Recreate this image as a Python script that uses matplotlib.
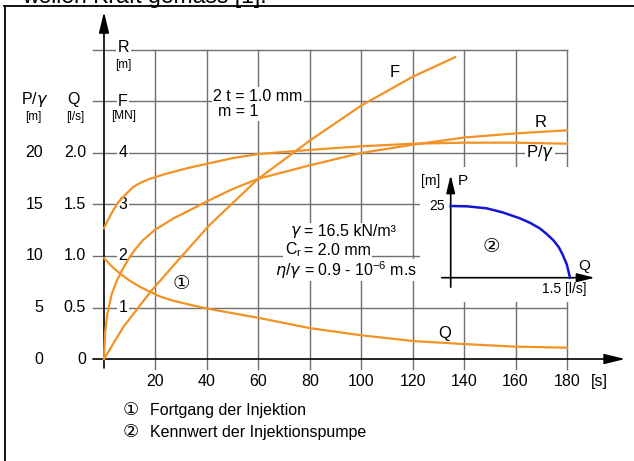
import matplotlib
matplotlib.use("Agg")
import matplotlib.pyplot as plt
from matplotlib.lines import Line2D

plt.rcParams['font.family'] = ['Liberation Sans', 'DejaVu Sans']
plt.rcParams['mathtext.fontset'] = 'custom'
plt.rcParams['mathtext.rm'] = 'Liberation Sans'
plt.rcParams['mathtext.it'] = 'DejaVu Sans:italic'

# --- data ---
# time axis [s]
x_ticks = [20, 40, 60, 80, 100, 120, 140, 160, 180]
q_ticks = [0, 0.5, 1.0, 1.5, 2.0]
p_ticks = [0, 5, 10, 15, 20]
f_ticks = [1, 2, 3, 4]

# Q [l/s]
q_t = [0, 3, 6.2, 10, 14, 17.9, 22, 27, 33.4, 40, 50, 60, 70, 80, 90, 100, 120, 140, 160, 180]
q_val = [0.98, 0.90, 0.83, 0.76, 0.70, 0.653, 0.605, 0.565, 0.527, 0.49, 0.445, 0.40, 0.35, 0.30,
         0.265, 0.23, 0.175, 0.145, 0.12, 0.11]

# P/gamma [m]
p_t = [0, 2, 3.6, 5.5, 7.5, 9.5, 11.4, 14.5, 17.9, 24.4, 32, 40, 50, 60, 80, 100, 120, 140, 160, 180]
p_val = [12.7, 13.7, 14.45, 15.2, 15.75, 16.25, 16.7, 17.15, 17.5, 18.0, 18.5, 18.95, 19.5, 19.9,
         20.3, 20.65, 20.9, 21.0, 21.0, 20.9]

# R (same scale as the F column)
r_t = [0, 0.4, 1.3, 3, 5, 7, 9.5, 12, 15, 19.6, 27, 33.4, 40, 50, 60, 80, 100, 120, 140, 160, 180]
r_val = [0, 0.5, 0.88, 1.26, 1.52, 1.72, 1.94, 2.12, 2.30, 2.50, 2.73, 2.89, 3.06, 3.30, 3.50,
         3.76, 4.0, 4.16, 4.30, 4.38, 4.44]

# F [MN]
f_t = [0, 7.5, 18, 28.5, 41, 60, 80, 100, 120, 136.5]
f_val = [0, 0.62, 1.30, 1.90, 2.60, 3.50, 4.24, 4.92, 5.48, 5.86]

# pump characteristic: Q [l/s], P [m]
pump_q = [0, 0.2, 0.45, 0.65, 0.87, 1.0, 1.12, 1.2, 1.29, 1.36, 1.41, 1.46, 1.5]
pump_p = [25, 24.9, 24.2, 22.8, 20.7, 19.1, 17.2, 15.4, 13.1, 10.6, 7.9, 4.6, 0]

orange = '#F29224'
grid_c = '#707070'

fig = plt.figure(figsize=(6.34, 4.61), dpi=100)
ax = fig.add_axes([0, 0, 1, 1])
ax.set_xlim(-40.43, 206.05)
ax.set_ylim(-0.990, 3.485)
ax.axis('off')

# base unit of the plot is Q [l/s]; P/gamma = 10*Q, F = 2*Q
ymax = 3.0
for t in x_ticks:
    ax.plot([t, t], [-0.1, ymax], color=grid_c, lw=1.0, zorder=1)
for y in [0.5, 1.0, 1.5, 2.0, 2.5, 3.0]:
    ax.plot([-4.3, 180], [y, y], color=grid_c, lw=1.0, zorder=1)

# axes arrows
arr = dict(arrowstyle='-|>,head_length=0.9,head_width=0.22', color='black',
           lw=1.2, mutation_scale=14, shrinkA=0, shrinkB=0)
ax.annotate('', xy=(202.6, 0), xytext=(-4.3, 0), arrowprops=arr, zorder=3)
ax.annotate('', xy=(0, 3.369), xytext=(0, -0.087), arrowprops=arr, zorder=3)

# curves
ax.plot(q_t, q_val, color=orange, lw=1.6, zorder=4)
ax.plot(p_t, [v / 10 for v in p_val], color=orange, lw=1.6, zorder=4)
ax.plot(r_t, [v / 2 for v in r_val], color=orange, lw=1.6, zorder=4)
ax.plot(f_t, [v / 2 for v in f_val], color=orange, lw=1.6, zorder=4)

wb = dict(fc='white', ec='none', pad=1)
fs = 11.5

# left scales
for v in p_ticks:
    ax.text(-23.7, v / 10, f"{v}", ha='right', va='center', fontsize=fs)
for v in q_ticks:
    ax.text(-7.0, v, f"{v:.1f}" if v else "0", ha='right', va='center', fontsize=fs)
for v in f_ticks:
    ax.text(7.4, v / 2, f"{v}", ha='center', va='center', fontsize=fs, bbox=wb, zorder=2)

ax.text(-26.8, 2.52, r'P/$\gamma$', ha='center', va='center', fontsize=fs)
ax.text(-27.5, 2.35, '[m]', ha='center', va='center', fontsize=8.5)
ax.text(-12.0, 2.52, 'Q', ha='center', va='center', fontsize=fs)
ax.text(-11.3, 2.35, '[l/s]', ha='center', va='center', fontsize=8.5)
ax.text(7.4, 2.5, 'F', ha='center', va='center', fontsize=fs, bbox=wb, zorder=2)
ax.text(7.6, 2.36, '[MN]', ha='center', va='center', fontsize=8.5)
ax.text(7.6, 3.02, 'R', ha='center', va='center', fontsize=fs, bbox=wb, zorder=2)
ax.text(7.6, 2.85, '[m]', ha='center', va='center', fontsize=8.5)

# x tick labels
for t in x_ticks:
    ax.text(t, -0.214, f"{t}", ha='center', va='center', fontsize=fs)
ax.text(192.5, -0.214, '[s]', ha='center', va='center', fontsize=fs)

# annotations
ax.text(42.4, 2.553, '2 t = 1.0 mm', ha='left', va='center', fontsize=fs, bbox=wb, zorder=2)
ax.text(44.3, 2.40, 'm = 1', ha='left', va='center', fontsize=fs, bbox=wb, zorder=2)

left = [r'$\gamma$', r'C$_\mathregular{r}$', r'$\eta$/$\gamma$']
right = ['= 16.5 kN/m³', '= 2.0 mm', r'= 0.9 - 10$^\mathregular{-6}$ m.s']
for yy, l, r in zip([1.233, 1.058, 0.864], left, right):
    ax.text(77.0, yy, l, ha='right', va='center', fontsize=fs, bbox=wb, zorder=2)
    ax.text(77.6, yy, r, ha='left', va='center', fontsize=fs, bbox=wb, zorder=2)

ax.text(113.1, 2.777, 'F', ha='center', va='center', fontsize=12)
ax.text(169.9, 2.30, 'R', ha='center', va='center', fontsize=12)
ax.text(132.6, 0.252, 'Q', ha='center', va='center', fontsize=12)
ax.text(169.5, 2.0, r'P/$\gamma$', ha='center', va='center', fontsize=12, bbox=wb, zorder=2)
ax.text(29.9, 0.728, '①', ha='center', va='center', fontsize=14)

# legend
ax.text(10.5, -0.495, '①', ha='center', va='center', fontsize=13)
ax.text(17.9, -0.495, 'Fortgang der Injektion', ha='left', va='center', fontsize=fs)
ax.text(10.5, -0.718, '②', ha='center', va='center', fontsize=13)
ax.text(17.9, -0.718, 'Kennwert der Injektionspumpe', ha='left', va='center', fontsize=fs)

# inset: pump characteristic
ins = fig.add_axes([420 / 634, 1 - 302 / 461, 190 / 634, 135 / 461])
ins.set_xlim(-0.386, 2.003)
ins.set_ylim(-8.47, 38.6)
ins.set_facecolor('white')
ins.set_xticks([])
ins.set_yticks([])
for s in ins.spines.values():
    s.set_visible(False)
arr2 = dict(arr, mutation_scale=12)
ins.annotate('', xy=(1.814, 0), xytext=(-0.113, 0), arrowprops=arr2)
ins.annotate('', xy=(0, 35.8), xytext=(0, -3.3), arrowprops=arr2)
ins.plot(pump_q, pump_p, color='#1414D2', lw=1.8, zorder=4)
ins.text(-0.07, 25, '25', ha='right', va='center', fontsize=10)
ins.text(-0.248, 33.7, '[m]', ha='center', va='center', fontsize=10)
ins.text(0.154, 33.7, 'P', ha='center', va='center', fontsize=11)
ins.text(1.68, 4.1, 'Q', ha='center', va='center', fontsize=11)
ins.text(1.425, -3.9, '1.5 [l/s]', ha='center', va='center', fontsize=10)
ins.text(0.507, 10.7, '②', ha='center', va='center', fontsize=14)

# frame and clipped caption
fig.add_artist(Line2D([4.5 / 634, 4.5 / 634], [0, 1 - 6 / 461], color='black', lw=1.3))
fig.add_artist(Line2D([4 / 634, 1], [1 - 6.5 / 461, 1 - 6.5 / 461], color='black', lw=1.3))
fig.text(22 / 634, 1 - 3.0 / 461, 'wellen Kraft gemäss [1].', ha='left', va='baseline', fontsize=16.5)

fig.savefig('out.png', dpi=100)
